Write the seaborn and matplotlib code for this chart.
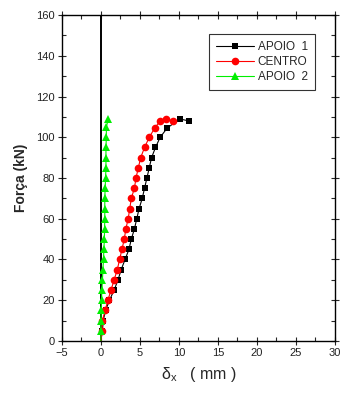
import matplotlib
matplotlib.use("Agg")
import matplotlib.pyplot as plt
from matplotlib.ticker import MultipleLocator
import seaborn as sns

# deslocamentos (mm) e forças (kN)
forca_apoio1 = [5, 10, 15, 20, 25, 30, 35, 40, 45, 50, 55, 60, 65, 70, 75, 80,
                85, 90, 95, 100, 104.5, 109, 108]
delta_apoio1 = [0.2, 0.3, 0.6, 1.1, 1.7, 2.2, 2.6, 3.1, 3.6, 3.9, 4.3, 4.6, 4.9,
                5.3, 5.6, 5.9, 6.2, 6.5, 7.0, 7.6, 8.5, 10.1, 11.3]

forca_centro = [5, 10, 15, 20, 25, 30, 35, 40, 45, 50, 55, 60, 65, 70, 75, 80,
                85, 90, 95, 100, 104.5, 108, 109, 108]
delta_centro = [0.1, 0.2, 0.55, 0.9, 1.3, 1.7, 2.1, 2.4, 2.7, 3.0, 3.2, 3.5, 3.7,
                3.9, 4.3, 4.5, 4.8, 5.1, 5.6, 6.2, 6.9, 7.6, 8.3, 9.3]

forca_apoio2 = [5, 10, 15, 20, 25, 30, 35, 40, 45, 50, 55, 60, 65, 70, 75, 80,
                85, 90, 95, 100, 105, 109]
delta_apoio2 = [0.0, 0.0, 0.05, 0.08, 0.13, 0.2, 0.26, 0.34, 0.38, 0.45, 0.47, 0.5,
                0.5, 0.5, 0.55, 0.6, 0.65, 0.65, 0.65, 0.7, 0.7, 0.95]

sns.set_style("ticks")
plt.rcParams["font.family"] = ["Liberation Sans", "DejaVu Sans"]

fig = plt.figure(figsize=(3.4, 3.96), dpi=100)
ax = fig.add_axes([0.182, 0.139, 0.803, 0.823])

ax.axvline(0, color="black", lw=1.4, zorder=1)

series = [
    ("APOIO  1", delta_apoio1, forca_apoio1, "black", "s", 5),
    ("CENTRO", delta_centro, forca_centro, "red", "o", 5.5),
    ("APOIO  2", delta_apoio2, forca_apoio2, "#00ee00", "^", 6),
]
for nome, dx, fy, cor, mk, ms in series:
    # linha partindo da origem, marcadores só nos pontos medidos
    sns.lineplot(x=[0] + dx, y=[0] + fy, ax=ax, color=cor, marker=mk,
                 markersize=ms, markeredgewidth=0, markevery=slice(1, None),
                 lw=0.8, sort=False, estimator=None, label=nome, zorder=3)

ax.set_xlim(-5, 30)
ax.set_ylim(0, 160)
ax.xaxis.set_major_locator(MultipleLocator(5))
ax.xaxis.set_minor_locator(MultipleLocator(2.5))
ax.yaxis.set_major_locator(MultipleLocator(20))
ax.yaxis.set_minor_locator(MultipleLocator(10))
ax.tick_params(which="major", direction="inout", length=6, width=0.8,
               labelsize=8, labelcolor="#222222", top=True, right=True, pad=2)
ax.tick_params(which="minor", direction="in", length=3, width=0.8,
               top=True, right=True)
for s in ax.spines.values():
    s.set_linewidth(1.0)
    s.set_color("black")

ax.set_ylabel("Força (kN)", fontsize=10, fontweight="bold", labelpad=6)
ax.set_xlabel(r"$\mathregular{δ_x}$   ( mm )", fontsize=11.5, labelpad=5)

leg = ax.legend(loc="upper right", bbox_to_anchor=(0.927, 0.942), fontsize=8.5,
                frameon=True, fancybox=False, edgecolor="black",
                borderaxespad=0, handlelength=3.2, borderpad=0.6,
                labelspacing=0.25, handletextpad=0.3)
leg.get_frame().set_linewidth(0.8)

fig.savefig("out.png", dpi=100)
